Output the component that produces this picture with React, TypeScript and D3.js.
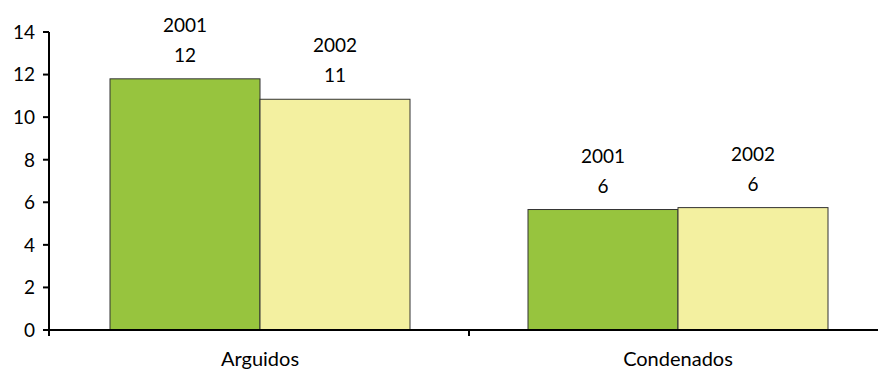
import React from "react";
import * as d3 from "d3";

const categories = ["Arguidos", "Condenados"];
const years = ["2001", "2002"];
const values2001 = [11.8, 5.66];
const values2002 = [10.84, 5.75];
const labels2001 = ["12", "6"];
const labels2002 = ["11", "6"];
const yTicks = [0, 2, 4, 6, 8, 10, 12, 14];
const colors = ["#97c43e", "#f3f0a0"];

const W = 878, H = 372;
const axisX = 49, left = 51, right = 887, top = 32, bottom = 330;
const FONT = "Lato, 'Open Sans', sans-serif";

export default function App() {
  const x = d3.scaleBand<string>().domain(categories).range([left, right]);
  const y = d3.scaleLinear().domain([0, 14]).range([bottom, top]);
  const inner = d3.scaleBand<string>().domain(years).range([0, 300]);
  const series = [values2001, values2002];
  const labs = [labels2001, labels2002];
  return (
    <svg width={W} height={H} style={{ position: "absolute", left: 0, top: 0 }} fontFamily={FONT}>
      <rect width={W} height={H} fill="#fff" />
      {categories.map((c, ci) =>
        years.map((yr, si) => {
          const cx = (x(c) as number) + x.bandwidth() / 2 - 150;
          const bx = cx + (inner(yr) as number);
          const v = series[si][ci];
          const yt = y(v);
          return (
            <g key={c + yr}>
              <rect x={bx} y={yt} width={inner.bandwidth()} height={bottom - yt}
                fill={colors[si]} stroke="#333" strokeWidth={1} />
              <text x={bx + inner.bandwidth() / 2} y={yt - 17} textAnchor="middle" fontSize={19} fill="#000">{labs[si][ci]}</text>
              <text x={bx + inner.bandwidth() / 2} y={yt - 47} textAnchor="middle" fontSize={19} fill="#000">{yr}</text>
            </g>
          );
        })
      )}
      <line x1={axisX} x2={W} y1={bottom} y2={bottom} stroke="#000" strokeWidth={2} />
      <line x1={axisX} x2={axisX} y1={top} y2={bottom + 6} stroke="#000" strokeWidth={2} />
      {yTicks.map(t => (
        <g key={t}>
          <line x1={axisX - 6} x2={axisX} y1={y(t)} y2={y(t)} stroke="#000" strokeWidth={2} />
          <text x={35} y={y(t)} dy="0.36em" textAnchor="end" fontSize={19} fill="#000">{t}</text>
        </g>
      ))}
      {categories.slice(1).map(c => (
        <line key={c} x1={x(c) as number} x2={x(c) as number} y1={bottom} y2={bottom + 6} stroke="#000" strokeWidth={2} />
      ))}
      {categories.map(c => (
        <text key={c} x={(x(c) as number) + x.bandwidth() / 2} y={366} textAnchor="middle" fontSize={20} fill="#000">{c}</text>
      ))}
    </svg>
  );
}
